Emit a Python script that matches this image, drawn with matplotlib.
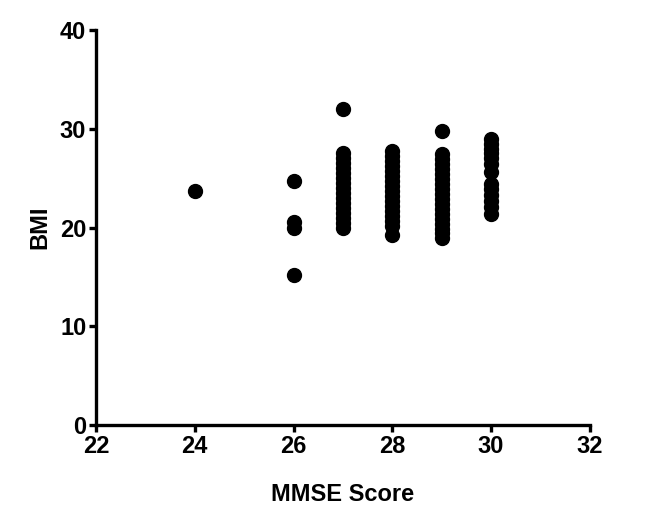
import matplotlib
matplotlib.use("Agg")
import matplotlib.pyplot as plt

plt.rcParams['font.family'] = ['Liberation Sans', 'DejaVu Sans']
plt.rcParams['font.weight'] = 'bold'

# MMSE score groups and BMI values
mmse_24 = [23.7]
mmse_26 = [24.7, 20.6, 20.0, 15.2]
mmse_27 = [32.0, 27.5, 27.0, 26.5, 26.0, 25.5, 25.0, 24.5, 24.0, 23.5,
           23.0, 22.5, 22.0, 21.5, 21.0, 20.5, 20.0]
mmse_28 = [27.7, 27.2, 26.7, 26.2, 25.7, 25.2, 24.7, 24.2, 23.7, 23.2,
           22.7, 22.2, 21.7, 21.2, 20.7, 20.2, 19.2]
mmse_29 = [29.8, 27.4, 26.9, 26.4, 25.9, 25.4, 24.9, 24.4, 23.9, 23.4,
           22.9, 22.4, 21.9, 21.4, 20.9, 20.4, 19.9, 19.4, 18.9]
mmse_30 = [29.0, 28.5, 28.0, 27.5, 27.0, 26.4, 25.6, 24.4, 23.9, 23.3,
           22.7, 22.1, 21.4]

groups = [(24, mmse_24), (26, mmse_26), (27, mmse_27),
          (28, mmse_28), (29, mmse_29), (30, mmse_30)]

fig = plt.figure(figsize=(6.62, 5.09), dpi=100)
ax = fig.add_axes([0.145, 0.165, 0.746, 0.776])

for score, bmi in groups:
    ax.scatter([score] * len(bmi), bmi, s=100, color='black', zorder=3,
               clip_on=False)

ax.set_xlim(22, 32)
ax.set_ylim(0, 40)
ax.set_xticks([22, 24, 26, 28, 30, 32])
ax.set_yticks([0, 10, 20, 30, 40])
ax.spines['top'].set_visible(False)
ax.spines['right'].set_visible(False)
ax.spines['left'].set_linewidth(2.4)
ax.spines['bottom'].set_linewidth(2.4)
ax.tick_params(width=2.4, length=5, labelsize=17, pad=2)
for lab in ax.get_xticklabels() + ax.get_yticklabels():
    lab.set_fontweight('bold')

ax.set_xlabel("MMSE Score", fontsize=17, fontweight='bold', labelpad=18)
ax.set_ylabel("BMI", fontsize=17, fontweight='bold', labelpad=6)

fig.savefig("out.png", dpi=100)
